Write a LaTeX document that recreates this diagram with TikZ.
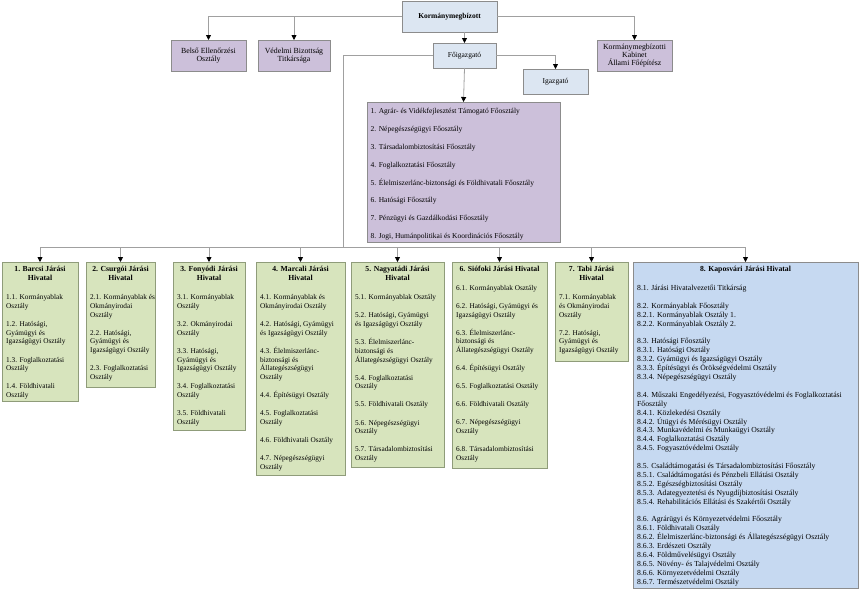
\documentclass[tikz,border=0pt]{standalone}
\usepackage{fontspec}
\setmainfont{Liberation Serif}
\usetikzlibrary{arrows.meta,calc}
\definecolor{lblue}{HTML}{DCE6F2}
\definecolor{purp}{HTML}{CCC0DA}
\definecolor{grn}{HTML}{D7E4BD}
\definecolor{bblue}{HTML}{C6D9F1}
\definecolor{bord}{HTML}{8C8C8C}
\definecolor{gbord}{HTML}{8F9C7A}
\definecolor{lin}{HTML}{A0A0A0}
\newcommand{\zgap}{\\[9.4pt]}
\newcommand{\zblank}{\\[8.9pt]}
\begin{document}
\begin{tikzpicture}[x=1pt,y=-1pt,
  box/.style={draw=bord, line width=0.8pt, inner sep=0pt, outer sep=0pt, anchor=north west, align=center, font=\fontsize{7.8}{8.3}\selectfont},
  gbox/.style={box, draw=gbord, fill=grn},
  ttl/.style={anchor=north, inner sep=0pt, align=center, font=\fontsize{7.7}{9.3}\selectfont\bfseries},
  items/.style={anchor=north west, inner sep=0pt, align=left, font=\fontsize{7.3}{8.7}\selectfont},
  conn/.style={draw=lin, line width=0.8pt},
  arr/.style={conn, -{Triangle[width=5pt,length=5pt,color=black]}}
]
\useasboundingbox (0,0) rectangle (860,592);

% top level
\node[box, fill=lblue, minimum width=95pt, minimum height=31pt, font=\fontsize{7.5}{9}\selectfont\bfseries] (km) at (402,1) {Kormánymegbízott};
\node[box, fill=purp, minimum width=75pt, minimum height=31pt] (belso) at (171,40) {Belső Ellenőrzési\\Osztály};
\node[box, fill=purp, minimum width=72pt, minimum height=31pt] (ved) at (258,40) {Védelmi Bizottság\\Titkársága};
\node[box, fill=purp, minimum width=75pt, minimum height=31pt] (kab) at (597,40) {Kormánymegbízotti\\Kabinet\\Állami Főépítész};
\node[box, fill=lblue, minimum width=63pt, minimum height=25pt, font=\fontsize{7.5}{9}\selectfont] (fo) at (433,43) {Főigazgató};
\node[box, fill=lblue, minimum width=65pt, minimum height=25pt, font=\fontsize{7.5}{9}\selectfont] (ig) at (523,69) {Igazgató};

% Főosztályok
\node[box, fill=purp, minimum width=193pt, minimum height=140pt] (fosz) at (367,102) {};
\node[items, font=\fontsize{7.5}{8.9}\selectfont] (foszt) at ($(fosz.north west)+(3.5,6.5)$) {1. Agrár- és Vidékfejlesztést Támogató Főosztály\zblank
2. Népegészségügyi Főosztály\zblank
3. Társadalombiztosítási Főosztály\zblank
4. Foglalkoztatási Főosztály\zblank
5. Élelmiszerlánc-biztonsági és Földhivatali Főosztály\zblank
6. Hatósági Főosztály\zblank
7. Pénzügyi és Gazdálkodási Főosztály\zblank
8. Jogi, Humánpolitikai és Koordinációs Főosztály};

% Járási hivatalok
\node[gbox, minimum width=76pt, minimum height=139pt] (b1) at (2,262) {};
\node[gbox, minimum width=69pt, minimum height=125pt] (b2) at (86,262) {};
\node[gbox, minimum width=72pt, minimum height=168pt] (b3) at (173,262) {};
\node[gbox, minimum width=89pt, minimum height=213pt] (b4) at (256,262) {};
\node[gbox, minimum width=93pt, minimum height=205pt] (b5) at (351,262) {};
\node[gbox, minimum width=95pt, minimum height=206pt] (b6) at (452,262) {};
\node[gbox, minimum width=73pt, minimum height=99pt] (b7) at (555,262) {};
\node[box, fill=bblue, minimum width=225pt, minimum height=326pt] (b8) at (633,262) {};

\node[ttl] (b1h) at ($(b1.north)+(0,4)$) {1. Barcsi Járási\\Hivatal};
\node[items] (b1t) at ($(b1.north west)+(4,32.5)$) {1.1. Kormányablak\\Osztály\zgap
1.2. Hatósági,\\Gyámügyi és\\Igazságügyi Osztály\zgap
1.3. Foglalkoztatási\\Osztály\zgap
1.4. Földhivatali\\Osztály};

\node[ttl] (b2h) at ($(b2.north)+(0,4)$) {2. Csurgói Járási\\Hivatal};
\node[items] (b2t) at ($(b2.north west)+(4,32.5)$) {2.1. Kormányablak és\\Okmányirodai\\Osztály\zgap
2.2. Hatósági,\\Gyámügyi és\\Igazságügyi Osztály\zgap
2.3. Foglalkoztatási\\Osztály};

\node[ttl] (b3h) at ($(b3.north)+(0,4)$) {3. Fonyódi Járási\\Hivatal};
\node[items] (b3t) at ($(b3.north west)+(4,32.5)$) {3.1. Kormányablak\\Osztály\zgap
3.2. Okmányirodai\\Osztály\zgap
3.3. Hatósági,\\Gyámügyi és\\Igazságügyi Osztály\zgap
3.4. Foglalkoztatási\\Osztály\zgap
3.5. Földhivatali\\Osztály};

\node[ttl] (b4h) at ($(b4.north)+(0,4)$) {4. Marcali Járási\\Hivatal};
\node[items] (b4t) at ($(b4.north west)+(4,32.5)$) {4.1. Kormányablak és\\Okmányirodai Osztály\zgap
4.2. Hatósági, Gyámügyi\\és Igazságügyi Osztály\zgap
4.3. Élelmiszerlánc-\\biztonsági és\\Állategészségügyi\\Osztály\zgap
4.4. Építésügyi Osztály\zgap
4.5. Foglalkoztatási\\Osztály\zgap
4.6. Földhivatali Osztály\zgap
4.7. Népegészségügyi\\Osztály};

\node[ttl] (b5h) at ($(b5.north)+(0,4)$) {5. Nagyatádi Járási\\Hivatal};
\node[items] (b5t) at ($(b5.north west)+(4,32.5)$) {5.1. Kormányablak Osztály\zgap
5.2. Hatósági, Gyámügyi\\és Igazságügyi Osztály\zgap
5.3. Élelmiszerlánc-\\biztonsági és\\Állategészségügyi Osztály\zgap
5.4. Foglalkoztatási\\Osztály\zgap
5.5. Földhivatali Osztály\zgap
5.6. Népegészségügyi\\Osztály\zgap
5.7. Társadalombiztosítási\\Osztály};

\node[ttl] (b6h) at ($(b6.north)+(0,4)$) {6. Siófoki Járási Hivatal};
\node[items] (b6t) at ($(b6.north west)+(4,23)$) {6.1. Kormányablak Osztály\zgap
6.2. Hatósági, Gyámügyi és\\Igazságügyi Osztály\zgap
6.3. Élelmiszerlánc-\\biztonsági és\\Állategészségügyi Osztály\zgap
6.4. Építésügyi Osztály\zgap
6.5. Foglalkoztatási Osztály\zgap
6.6. Földhivatali Osztály\zgap
6.7. Népegészségügyi\\Osztály\zgap
6.8. Társadalombiztosítási\\Osztály};

\node[ttl] (b7h) at ($(b7.north)+(0,4)$) {7. Tabi Járási\\Hivatal};
\node[items] (b7t) at ($(b7.north west)+(4,32.5)$) {7.1. Kormányablak\\és Okmányirodai\\Osztály\zgap
7.2. Hatósági,\\Gyámügyi és\\Igazságügyi Osztály};

\node[ttl] (b8h) at ($(b8.north)+(0,4)$) {8. Kaposvári Járási Hivatal};
\node[items, font=\fontsize{7.7}{8.9}\selectfont] (b8t) at ($(b8.north west)+(4,23)$) {8.1. Járási Hivatalvezetői Titkárság\zblank
8.2. Kormányablak Főosztály\\
8.2.1. Kormányablak Osztály 1.\\
8.2.2. Kormányablak Osztály 2.\zblank
8.3. Hatósági Főosztály\\
8.3.1. Hatósági Osztály\\
8.3.2. Gyámügyi és Igazságügyi Osztály\\
8.3.3. Építésügyi és Örökségvédelmi Osztály\\
8.3.4. Népegészségügyi Osztály\zblank
8.4. Műszaki Engedélyezési, Fogyasztóvédelmi és Foglalkoztatási\\
Főosztály\\
8.4.1. Közlekedési Osztály\\
8.4.2. Útügyi és Mérésügyi Osztály\\
8.4.3. Munkavédelmi és Munkaügyi Osztály\\
8.4.4. Foglalkoztatási Osztály\\
8.4.5. Fogyasztóvédelmi Osztály\zblank
8.5. Családtámogatási és Társadalombiztosítási Főosztály\\
8.5.1. Családtámogatási és Pénzbeli Ellátási Osztály\\
8.5.2. Egészségbiztosítási Osztály\\
8.5.3. Adategyeztetési és Nyugdíjbiztosítási Osztály\\
8.5.4. Rehabilitációs Ellátási és Szakértői Osztály\zblank
8.6. Agrárügyi és Környezetvédelmi Főosztály\\
8.6.1. Földhivatali Osztály\\
8.6.2. Élelmiszerlánc-biztonsági és Állategészségügyi Osztály\\
8.6.3. Erdészeti Osztály\\
8.6.4. Földművelésügyi Osztály\\
8.6.5. Növény- és Talajvédelmi Osztály\\
8.6.6. Környezetvédelmi Osztály\\
8.6.7. Természetvédelmi Osztály};

% connectors
\coordinate (bus) at (343,247);
\draw[arr] (km.west) -| (belso.north);
\draw[arr] (km.west) -| (ved.north);
\draw[arr] (km.east) -| (kab.north);
\draw[arr] (fo.north |- km.south) -- (fo.north);
\draw[arr] (fo.south) -- (fosz.north);
\draw[arr] (fo.east) -| (ig.north);
\draw[conn] (fo.west) -| (bus);
\draw[conn] (b1.north |- bus) -- (b8.north |- bus);
\foreach \b in {b1,b2,b3,b4,b5,b6,b7,b8}
  \draw[arr] (\b.north |- bus) -- (\b.north);
\end{tikzpicture}
\end{document}
